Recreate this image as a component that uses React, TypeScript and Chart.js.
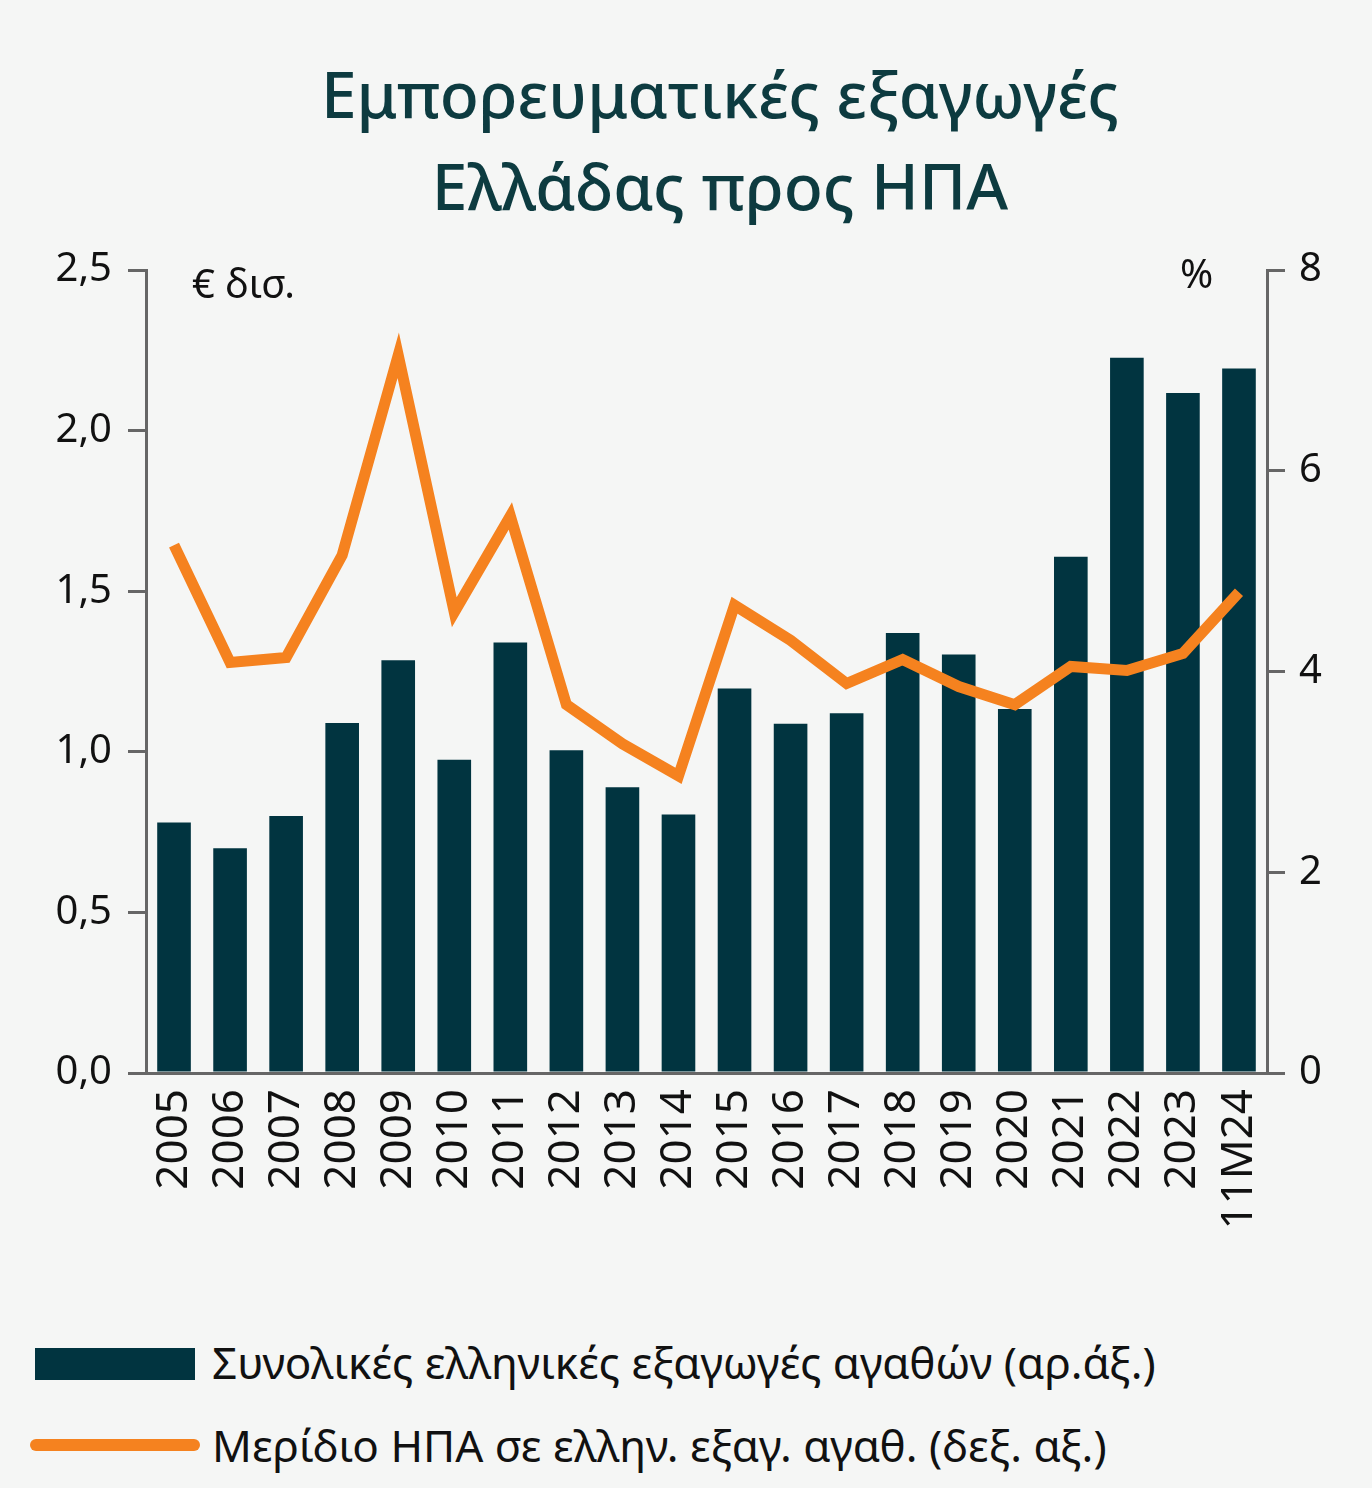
import React, { useEffect, useRef } from "react";
import { Chart, registerables } from "chart.js";
Chart.register(...registerables);

const categories = ["2005","2006","2007","2008","2009","2010","2011","2012","2013","2014","2015","2016","2017","2018","2019","2020","2021","2022","2023","11M24"];
const exportsBn = [0.78,0.70,0.80,1.09,1.285,0.975,1.34,1.005,0.89,0.805,1.197,1.087,1.12,1.37,1.303,1.133,1.607,2.227,2.117,2.193];
const usShare = [5.26,4.09,4.14,5.16,7.15,4.59,5.55,3.67,3.28,2.96,4.66,4.31,3.88,4.12,3.85,3.67,4.05,4.01,4.18,4.79];
const leftTicks = [0,0.5,1,1.5,2,2.5];
const rightTicks = [0,2,4,6,8];

const FONT = "'Noto Sans', 'DejaVu Sans', sans-serif";
const TEAL = "#013440";
const ORANGE = "#f5821f";

export default function App() {
  const ref = useRef<HTMLCanvasElement>(null);
  useEffect(() => {
    document.body.style.margin = "0";
    const labelsPlugin = {
      id: "units",
      afterDraw(c: any) {
        const ctx = c.ctx;
        ctx.save();
        ctx.fillStyle = "#111";
        ctx.font = `40px ${FONT}`;
        ctx.textBaseline = "alphabetic";
        ctx.textAlign = "left";
        ctx.fillText("€ δισ.", 192, 298 - 230);
        ctx.fillText("%", 1180, 288 - 230);
        ctx.restore();
      },
    };
    const chart = new Chart(ref.current!, {
      type: "bar",
      data: {
        labels: categories,
        datasets: [
          { type: "line", data: usShare, yAxisID: "y1", borderColor: ORANGE, borderWidth: 11, pointRadius: 0, tension: 0, order: 0 } as any,
          { type: "bar", data: exportsBn, yAxisID: "y", backgroundColor: TEAL, barPercentage: 0.6, categoryPercentage: 1, order: 1 },
        ],
      },
      options: {
        responsive: false,
        animation: false,
        layout: { padding: { top: 20, left: 0, right: 0, bottom: 0 } },
        plugins: { legend: { display: false }, tooltip: { enabled: false } },
        scales: {
          x: {
            offset: true,
            grid: { display: false },
            border: { color: "#666", width: 3 },
            ticks: { minRotation: 90, maxRotation: 90, color: "#111", font: { family: FONT, size: 44 }, padding: 8, autoSkip: false },
            afterFit(s: any) { s.height = 227; },
          },
          y: {
            position: "left",
            min: 0, max: 2.5,
            afterBuildTicks(s: any) { s.ticks = leftTicks.map((v) => ({ value: v })); },
            ticks: { color: "#111", font: { family: FONT, size: 40 }, padding: 16, callback: (v: any) => Number(v).toFixed(1).replace(".", ",") },
            grid: { drawOnChartArea: false, tickLength: 18, color: "#666", lineWidth: 3 },
            border: { color: "#666", width: 3 },
            afterFit(s: any) { s.width = 146; },
          },
          y1: {
            position: "right",
            min: 0, max: 8,
            afterBuildTicks(s: any) { s.ticks = rightTicks.map((v) => ({ value: v })); },
            ticks: { color: "#111", font: { family: FONT, size: 40 }, padding: 14 },
            grid: { drawOnChartArea: false, tickLength: 18, color: "#666", lineWidth: 3 },
            border: { color: "#666", width: 3 },
            afterFit(s: any) { s.width = 105; },
          },
        },
      },
      plugins: [labelsPlugin],
    });
    return () => chart.destroy();
  }, []);

  return (
    <div style={{ position: "relative", width: 1372, height: 1488, background: "#f5f6f5", fontFamily: FONT, overflow: "hidden" }}>
      <div style={{ position: "absolute", top: 48, left: 0, width: 1440, textAlign: "center", color: "#0d3b40", fontSize: 64, fontWeight: 500, lineHeight: "92px" }}>
        Εμπορευματικές εξαγωγές<br />Ελλάδας προς ΗΠΑ
      </div>
      <canvas ref={ref} width={1372} height={1070} style={{ position: "absolute", top: 230, left: 0 }} />
      <div style={{ position: "absolute", top: 1348, left: 35, width: 160, height: 32, background: TEAL }} />
      <div style={{ position: "absolute", top: 1330, left: 212, fontSize: 44, color: "#111", whiteSpace: "nowrap", lineHeight: "64px" }}>Συνολικές ελληνικές εξαγωγές αγαθών (αρ.άξ.)</div>
      <div style={{ position: "absolute", top: 1439, left: 30, width: 170, height: 12, borderRadius: 6, background: ORANGE }} />
      <div style={{ position: "absolute", top: 1413, left: 212, fontSize: 44, color: "#111", whiteSpace: "nowrap", lineHeight: "64px" }}>Μερίδιο ΗΠΑ σε ελλην. εξαγ. αγαθ. (δεξ. αξ.)</div>
    </div>
  );
}
